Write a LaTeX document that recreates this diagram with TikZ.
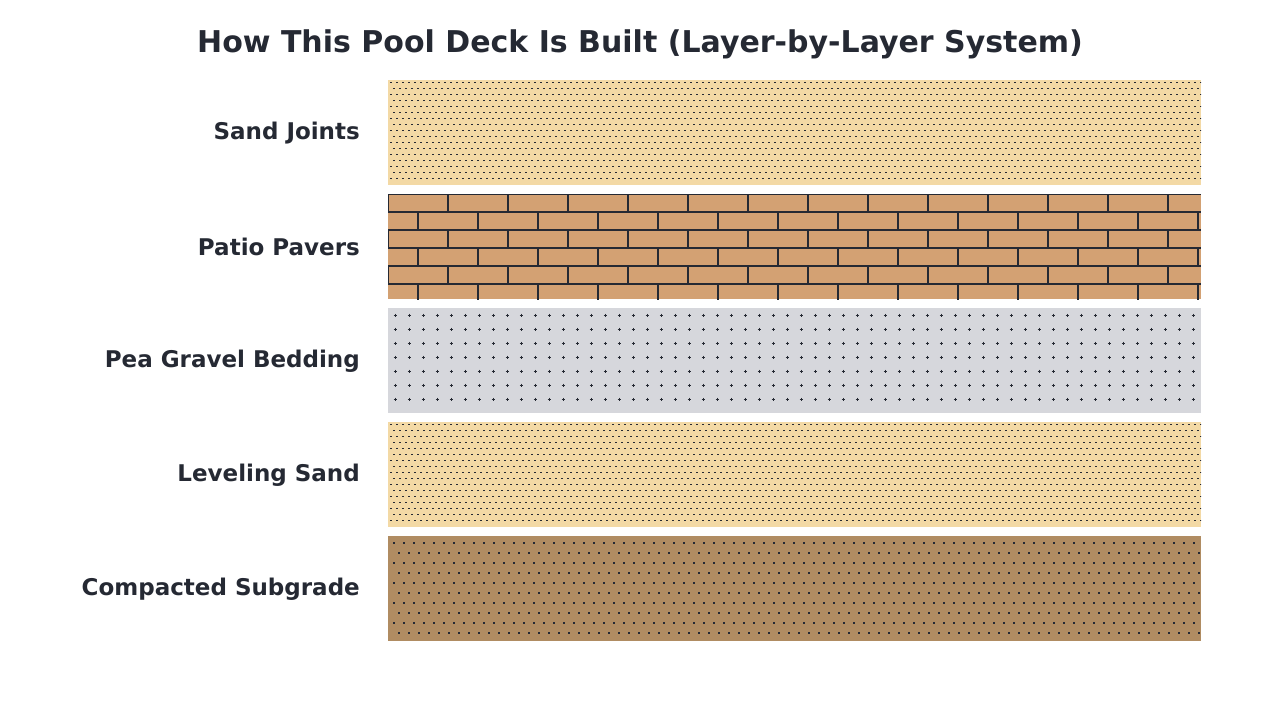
\documentclass[tikz,border=0pt]{standalone}
\usepackage{fontspec}
\setmainfont{DejaVu Sans}
\definecolor{inkc}{RGB}{37,41,51}
\definecolor{sandc}{RGB}{243,217,165}
\definecolor{paverc}{RGB}{211,161,115}
\definecolor{gravelc}{RGB}{214,215,220}
\definecolor{soilc}{RGB}{176,140,98}
\tikzset{
  layerlabel/.style={anchor=east, font=\bfseries\fontsize{23}{26}\selectfont, text=inkc, inner sep=0pt},
  band/.style={draw=none},
}
\begin{document}
\begin{tikzpicture}[x=1pt,y=-1pt]
\useasboundingbox (0,0) rectangle (1280,720);

% title
\node (title) at (640,44) {\bfseries\fontsize{30}{34}\selectfont\color{inkc}How This Pool Deck Is Built (Layer-by-Layer System)};

% Sand Joints
\fill[sandc] (388,80) rectangle (1201,185);
\begin{scope}
\clip (388,80) rectangle (1201,185);
\foreach \r in {0,...,16}{
  \pgfmathsetmacro\yy{82+6*\r}
  \pgfmathsetmacro\off{mod(\r,2)*3}
  \foreach \c in {0,...,135}
    \fill[inkc] ({390+\off+6*\c},\yy) rectangle ++(2,0.9);
}
\end{scope}

% Patio Pavers
\fill[paverc] (388,194) rectangle (1201,299);
\begin{scope}
\clip (388,194) rectangle (1201,299);
\foreach \r in {0,...,5}{
  \pgfmathsetmacro\yy{194+18*\r}
  \pgfmathsetmacro\off{mod(\r,2)*30}
  \draw[inkc, line width=1.2] (388,\yy) -- (1201,\yy);
  \foreach \c in {0,...,14}
    \draw[inkc, line width=1.2] ({388+\off+60*\c},\yy) -- ++(0,18);
}
\end{scope}

% Pea Gravel Bedding
\fill[gravelc] (388,308) rectangle (1201,413);
\begin{scope}
\clip (388,308) rectangle (1201,413);
\foreach \r in {0,...,6}{
  \pgfmathsetmacro\yy{315+14*\r}
  \foreach \c in {0,...,57}{
    \draw[inkc, line width=0.9] ({395+14*\c-1.5},\yy) -- ++(3,0);
    \draw[inkc, line width=0.9] ({395+14*\c},\yy-1.5) -- ++(0,3);
  }
}
\end{scope}

% Leveling Sand
\fill[sandc] (388,422) rectangle (1201,527);
\begin{scope}
\clip (388,422) rectangle (1201,527);
\foreach \r in {0,...,16}{
  \pgfmathsetmacro\yy{424+6*\r}
  \pgfmathsetmacro\off{mod(\r,2)*3}
  \foreach \c in {0,...,135}
    \fill[inkc] ({390+\off+6*\c},\yy) rectangle ++(2,0.9);
}
\end{scope}

% Compacted Subgrade
\fill[soilc] (388,536) rectangle (1201,641);
\begin{scope}
\clip (388,536) rectangle (1201,641);
\foreach \r in {0,...,9}{
  \pgfmathsetmacro\yy{542+10*\r}
  \pgfmathsetmacro\off{mod(\r,2)*5}
  \foreach \c in {0,...,81}
    \fill[inkc] ({393+\off+10*\c},\yy) rectangle ++(2,2);
}
\end{scope}

% labels
\node[layerlabel] (sandjoints) at (360,133) {Sand Joints};
\node[layerlabel] (pavers) at (360,247) {Patio Pavers};
\node[layerlabel] (gravel) at (360,361) {Pea Gravel Bedding};
\node[layerlabel] (levelsand) at (360,475) {Leveling Sand};
\node[layerlabel] (subgrade) at (360,589) {Compacted Subgrade};
\end{tikzpicture}
\end{document}
